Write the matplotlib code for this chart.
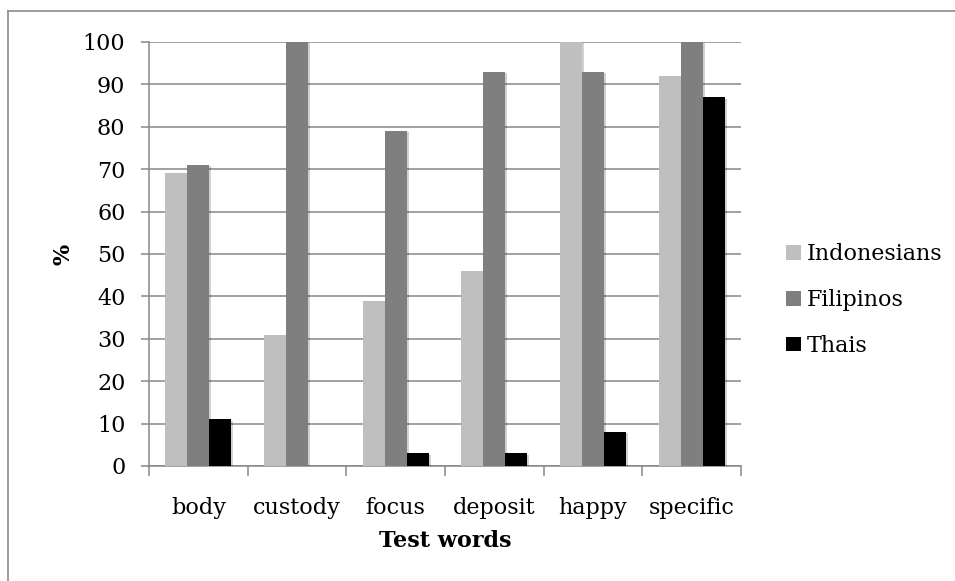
import matplotlib
matplotlib.use("Agg")
import matplotlib.pyplot as plt
import matplotlib.patheffects as pe
from matplotlib.lines import Line2D
import numpy as np

categories = ["body", "custody", "focus", "deposit", "happy", "specific"]
indonesians = [69, 31, 39, 46, 100, 92]
filipinos = [71, 100, 79, 93, 93, 100]
thais = [11, 0, 3, 3, 8, 87]
series_names = ["Indonesians", "Filipinos", "Thais"]
series_colors = ["#BFBFBF", "#7F7F7F", "#000000"]
yticks = [0, 10, 20, 30, 40, 50, 60, 70, 80, 90, 100]

plt.rcParams['font.family'] = ['DejaVu Serif']

fig = plt.figure(figsize=(9.55, 5.81), dpi=100)
ax = fig.add_axes([149/955, 1 - 466/581, (741-149)/955, (466-42)/581])

# outer frame (left and top edges visible)
fig.add_artist(Line2D([8/955, 8/955], [1 - 11/581, 0], transform=fig.transFigure,
                      color="#8C8C8C", lw=1.2))
fig.add_artist(Line2D([8/955, 1], [1 - 11/581, 1 - 11/581], transform=fig.transFigure,
                      color="#8C8C8C", lw=1.2))

x = np.arange(len(categories))
w = 1 / 4.5
shadow = [pe.SimplePatchShadow(offset=(1.5, -1.0), shadow_rgbFace="#000000", alpha=0.18), pe.Normal()]
for i, (vals, name, col) in enumerate(zip([indonesians, filipinos, thais], series_names, series_colors)):
    bars = ax.bar(x + (i - 1) * w, vals, width=w, color=col, label=name, zorder=3)
    for b in bars:
        b.set_path_effects(shadow)

ax.set_xlim(-0.5, len(categories) - 0.5)
ax.set_ylim(0, 100)
ax.set_yticks(yticks)
ax.set_yticklabels([str(t) for t in yticks], fontsize=16)
ax.yaxis.grid(True, color="#878787", lw=1.1, zorder=0)
ax.set_axisbelow(True)

# category boundaries as major ticks, labels on minor ticks at centers
ax.set_xticks(np.arange(-0.5, len(categories), 1.0))
ax.set_xticklabels([])
ax.set_xticks(x, minor=True)
ax.set_xticklabels(categories, minor=True, fontsize=16)
ax.tick_params(axis='x', which='major', length=7, width=1.1, color="#878787", direction='out')
ax.tick_params(axis='x', which='minor', length=0, pad=22)
ax.tick_params(axis='y', length=6, width=1.1, color="#878787", direction='out', pad=11)

for s in ["top", "right"]:
    ax.spines[s].set_visible(False)
for s in ["left", "bottom"]:
    ax.spines[s].set_color("#878787")
    ax.spines[s].set_linewidth(1.1)

ax.set_ylabel("%", fontsize=16, fontweight="bold", labelpad=6)
ax.set_xlabel("Test words", fontsize=16, fontweight="bold", labelpad=8)

leg = ax.legend(loc="center left", bbox_to_anchor=(775/955, 1 - 300/581),
                bbox_transform=fig.transFigure, frameon=False, fontsize=16,
                handlelength=0.65, handleheight=0.65, handletextpad=0.3,
                labelspacing=1.07, borderpad=0)
for h in leg.legend_handles:
    h.set_path_effects([])

fig.savefig("out.png", dpi=100)
